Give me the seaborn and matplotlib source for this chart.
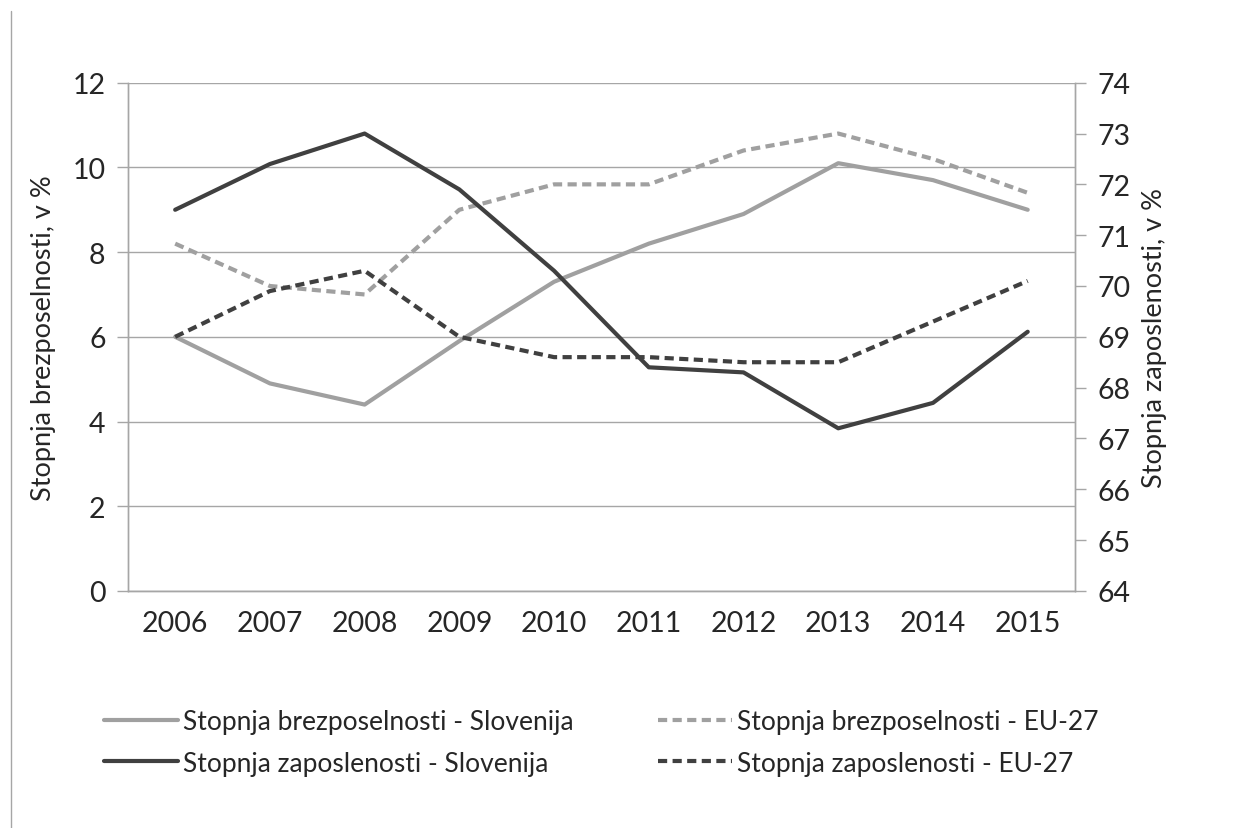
import pandas as pd
import seaborn as sns
import matplotlib.pyplot as plt
from matplotlib.lines import Line2D

# ----------------------------- DATA ------------------------------------------------------------------

years = ["2006", "2007", "2008", "2009", "2010", "2011", "2012", "2013", "2014", "2015"]
unemp_si = [6.0, 4.9, 4.4, 5.9, 7.3, 8.2, 8.9, 10.1, 9.7, 9.0]
unemp_eu = [8.2, 7.2, 7.0, 9.0, 9.6, 9.6, 10.4, 10.8, 10.2, 9.4]
emp_si = [71.5, 72.4, 73.0, 71.9, 70.3, 68.4, 68.3, 67.2, 67.7, 69.1]
emp_eu = [69.0, 69.9, 70.3, 69.0, 68.6, 68.6, 68.5, 68.5, 69.3, 70.1]

labels = [
    "Stopnja brezposelnosti - Slovenija",
    "Stopnja brezposelnosti - EU-27",
    "Stopnja zaposlenosti - Slovenija",
    "Stopnja zaposlenosti - EU-27",
]

df = pd.DataFrame({
    "year": years,
    "unemp_si": unemp_si,
    "unemp_eu": unemp_eu,
    "emp_si": emp_si,
    "emp_eu": emp_eu,
})

# ----------------------------- STYLE -----------------------------------------------------------------

sns.set_style("white")
plt.rcParams["font.family"] = ["Lato", "DejaVu Sans"]

light = "#a0a0a0"
dark = "#404040"
grid_c = "#a6a6a6"
lw = 3.0
dash = (0, (2.2, 1.3))
tick_fs = 20.5

fig = plt.figure(figsize=(12.53, 8.29), dpi=100)
ax = fig.add_axes([0.102, 0.286, 0.756, 0.613])
ax2 = ax.twinx()

# ----------------------------- LINES -----------------------------------------------------------------

sns.lineplot(data=df, x="year", y="unemp_si", ax=ax, color=light, lw=lw, sort=False)
sns.lineplot(data=df, x="year", y="unemp_eu", ax=ax, color=light, lw=lw, sort=False, linestyle=dash)
sns.lineplot(data=df, x="year", y="emp_si", ax=ax2, color=dark, lw=lw, sort=False)
sns.lineplot(data=df, x="year", y="emp_eu", ax=ax2, color=dark, lw=lw, sort=False, linestyle=dash)

# ----------------------------- AXES ------------------------------------------------------------------

ax.set_xlim(-0.5, len(years) - 0.5)
ax.set_ylim(0, 12)
ax.set_yticks(range(0, 13, 2))
ax2.set_ylim(64, 74)
ax2.set_yticks(range(64, 75))

ax.set_xticks(range(len(years)))
ax.set_xticklabels(years)
ax.set_xticks([i - 0.5 for i in range(len(years) + 1)], minor=True)
ax.tick_params(axis="x", which="major", length=0, pad=14, labelsize=tick_fs)
ax.tick_params(axis="x", which="minor", length=8, width=1, color=grid_c, direction="out")
ax.tick_params(axis="y", length=8, width=1, color=grid_c, direction="out", labelsize=tick_fs, pad=8)
ax2.tick_params(axis="y", length=8, width=1, color=grid_c, direction="out", labelsize=tick_fs, pad=8)

ax.yaxis.grid(True, color=grid_c, lw=1)
ax.set_axisbelow(True)

for a in (ax, ax2):
    a.spines["top"].set_visible(False)
    for s in ("left", "right", "bottom"):
        a.spines[s].set_color(grid_c)
        a.spines[s].set_linewidth(1)

ax.set_xlabel("")
ax.set_ylabel("Stopnja brezposelnosti, v %", fontsize=19.5, labelpad=12)
ax2.set_ylabel("Stopnja zaposlenosti, v %", fontsize=19.5, labelpad=8)

# ----------------------------- LEGEND ----------------------------------------------------------------

handles = [
    Line2D([0], [0], color=light, lw=lw),
    Line2D([0], [0], color=light, lw=lw, linestyle=dash),
    Line2D([0], [0], color=dark, lw=lw),
    Line2D([0], [0], color=dark, lw=lw, linestyle=dash),
]
# matplotlib fills legend columns first, so reorder to get rows as in the original
order = [0, 2, 1, 3]
fig.legend([handles[i] for i in order], [labels[i] for i in order], ncol=2,
           loc="upper left", bbox_to_anchor=(0.064, 0.172),
           frameon=False, fontsize=19, handlelength=2.8, handletextpad=0.2,
           columnspacing=3.2, labelspacing=0.62)

# left border line of the original frame
fig.add_artist(Line2D([0.009, 0.009], [0.0, 0.985], color=grid_c, lw=1, transform=fig.transFigure))

fig.savefig("out.png", dpi=100)
